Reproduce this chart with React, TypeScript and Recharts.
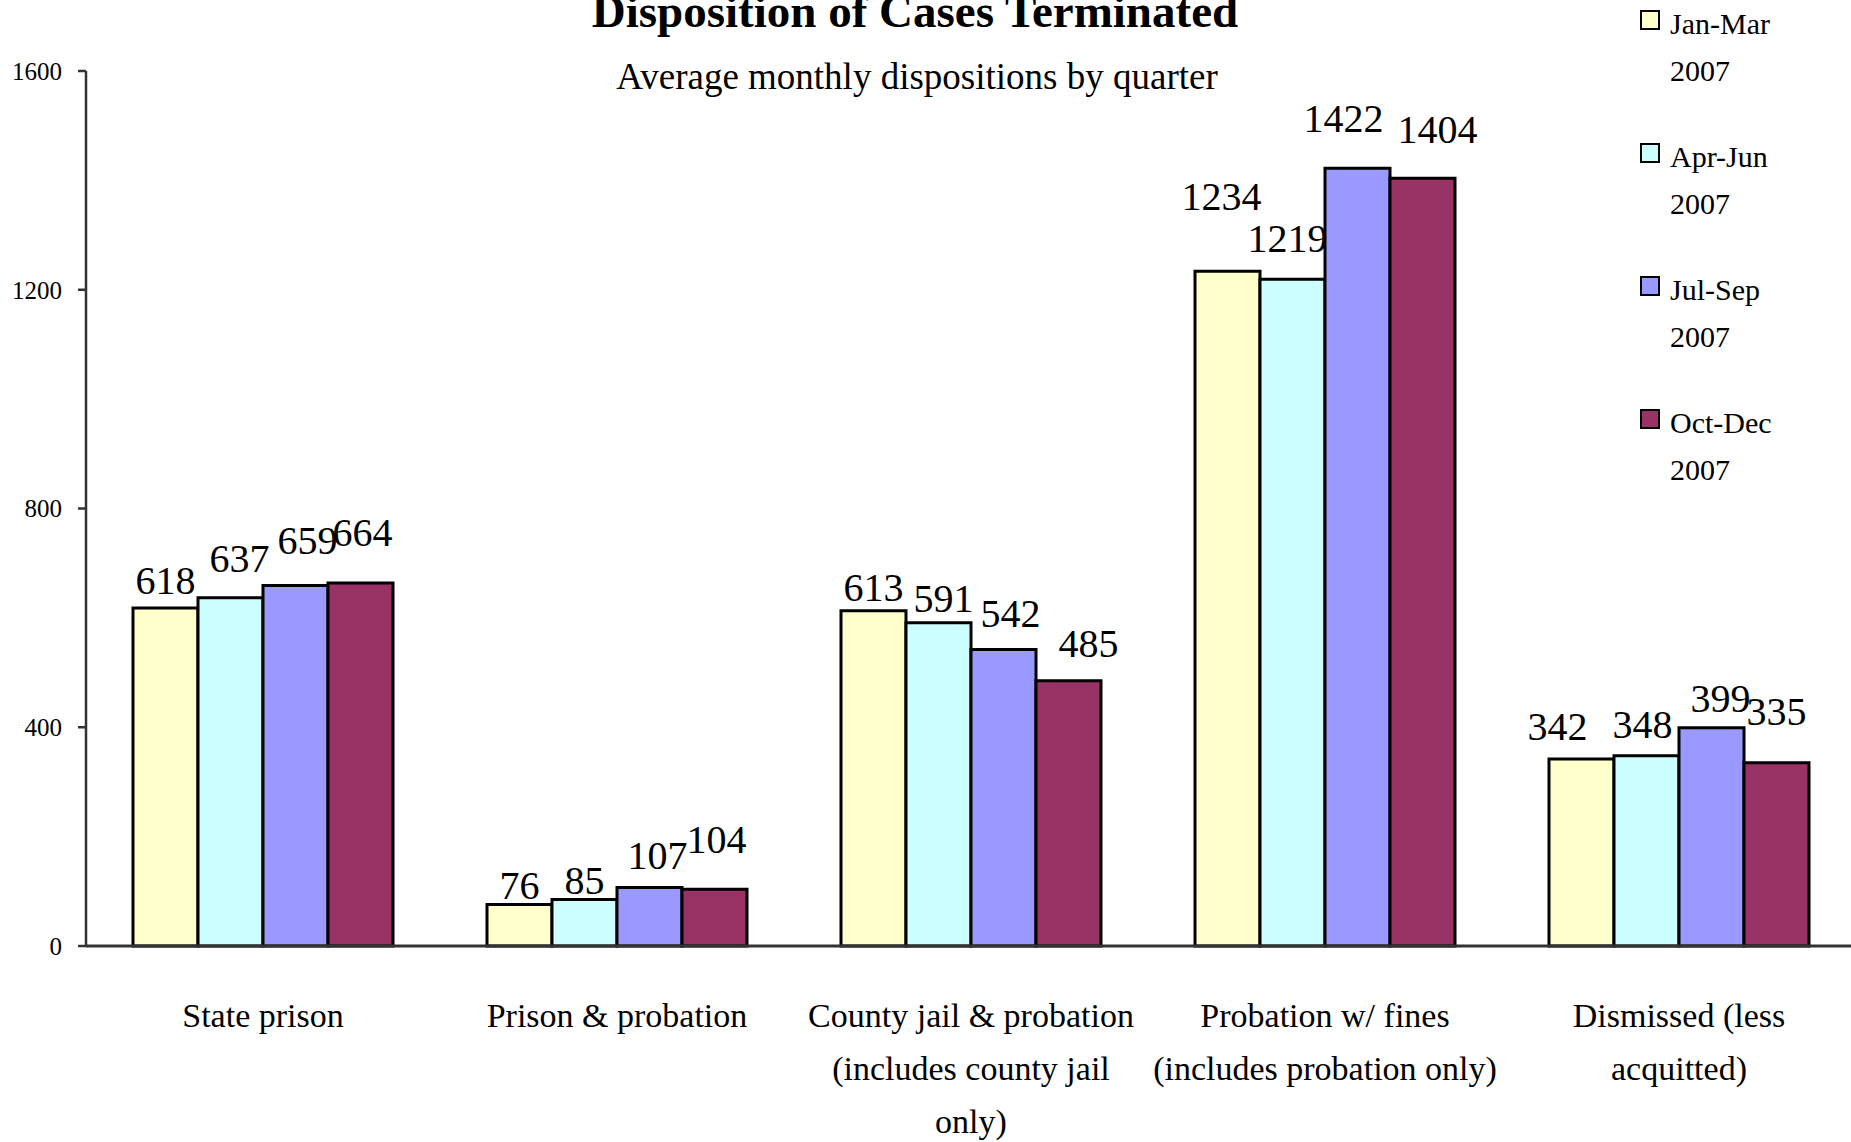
import React from 'react';
import { BarChart, Bar, XAxis, YAxis, LabelList } from 'recharts';

const categories = [
  'State prison',
  'Prison & probation',
  'County jail & probation\n(includes county jail\nonly)',
  'Probation w/ fines\n(includes probation only)',
  'Dismissed (less\nacquitted)',
];

const janMar = [618, 76, 613, 1234, 342];
const aprJun = [637, 85, 591, 1219, 348];
const julSep = [659, 107, 542, 1422, 399];
const octDec = [664, 104, 485, 1404, 335];

const yTicks = [0, 400, 800, 1200, 1600];

const SERIES = [
  { key: 'janMar', name: 'Jan-Mar\n2007', color: '#FFFFCC' },
  { key: 'aprJun', name: 'Apr-Jun\n2007', color: '#CCFFFF' },
  { key: 'julSep', name: 'Jul-Sep\n2007', color: '#9999FF' },
  { key: 'octDec', name: 'Oct-Dec\n2007', color: '#993366' },
];

// hand-placed label nudges from the original (dx, gap above bar), px
const LABEL_NUDGE: Record<string, [number, number][]> = {
  janMar: [[0, 14], [0, 5], [0, 10], [-6, 61], [-24, 19]],
  aprJun: [[9, 26], [0, 6], [5, 11], [-5, 27], [-4, 18]],
  julSep: [[12, 32], [8, 18], [7, 23], [-14, 36], [9, 16]],
  octDec: [[2, 37], [2, 36], [20, 24], [15, 35], [0, 38]],
};

const FONT = '"Liberation Serif", "Times New Roman", serif';

const chartData = categories.map((cat, i) => ({
  cat,
  janMar: janMar[i],
  aprJun: aprJun[i],
  julSep: julSep[i],
  octDec: octDec[i],
}));

const CategoryTick = ({ x, y, payload }: any) => {
  const lines = String(payload.value).split('\n');
  return (
    <text x={x} y={y + 81} textAnchor="middle" fontSize={34} fontFamily={FONT} fill="#000">
      {lines.map((l, i) => (
        <tspan key={i} x={x} dy={i === 0 ? 0 : 53}>
          {l}
        </tspan>
      ))}
    </text>
  );
};

const makeLabel = (seriesKey: string) => (props: any) => {
  const { x, y, width, value, index } = props;
  const [dx, gap] = LABEL_NUDGE[seriesKey][index] || [0, 10];
  return (
    <text
      x={x + width / 2 + dx}
      y={y - gap}
      textAnchor="middle"
      fontSize={40}
      fontFamily={FONT}
      fill="#000"
    >
      {value}
    </text>
  );
};

// legend drawn as plain html so it doesn't eat into the plot area
const LegendBox = () => (
  <div
    style={{
      position: 'absolute',
      left: 1640,
      top: 0,
      width: 211,
      fontFamily: FONT,
      fontSize: 30,
      color: '#000',
    }}
  >
    {SERIES.map((s) => (
      <div key={s.key} style={{ position: 'relative', height: 133 }}>
        <div
          style={{
            position: 'absolute',
            left: 0,
            top: 10,
            width: 16,
            height: 16,
            background: s.color,
            border: '2px solid #000',
          }}
        />
        <div style={{ position: 'absolute', left: 30, top: 0, lineHeight: '47px', whiteSpace: 'pre' }}>
          {s.name}
        </div>
      </div>
    ))}
  </div>
);

export default function App() {
  return (
    <div
      style={{
        position: 'absolute',
        left: 0,
        top: 0,
        width: 1851,
        height: 1142,
        overflow: 'hidden',
        background: '#fff',
      }}
    >
      <BarChart
        width={1856}
        height={1142}
        data={chartData}
        margin={{ top: 71, right: 0, bottom: 0, left: 0 }}
        barCategoryGap={47}
        barGap={0}
      >
        <XAxis
          dataKey="cat"
          height={196}
          interval={0}
          tickLine={false}
          tickSize={0}
          tickMargin={0}
          axisLine={{ stroke: '#333', strokeWidth: 3 }}
          tick={<CategoryTick />}
        />
        <YAxis
          width={86}
          domain={[0, 1600]}
          ticks={yTicks}
          interval={0}
          tickSize={8}
          tickMargin={16}
          axisLine={{ stroke: '#333', strokeWidth: 2.5 }}
          tickLine={{ stroke: '#333', strokeWidth: 2.5 }}
          tick={{ fontSize: 25, fontFamily: FONT, fill: '#000' }}
        />
        {SERIES.map((s) => (
          <Bar
            key={s.key}
            dataKey={s.key}
            name={s.name}
            fill={s.color}
            stroke="#000"
            strokeWidth={3}
            isAnimationActive={false}
          >
            <LabelList dataKey={s.key} content={makeLabel(s.key)} />
          </Bar>
        ))}
      </BarChart>
      <LegendBox />
      <svg
        width={1851}
        height={1142}
        style={{ position: 'absolute', left: 0, top: 0, pointerEvents: 'none' }}
      >
        <text x={915} y={27} textAnchor="middle" fontSize={47} fontWeight="bold" fontFamily={FONT} fill="#000">
          Disposition of Cases Terminated
        </text>
        <text x={917} y={89} textAnchor="middle" fontSize={37} fontFamily={FONT} fill="#000">
          Average monthly dispositions by quarter
        </text>
      </svg>
    </div>
  );
}
